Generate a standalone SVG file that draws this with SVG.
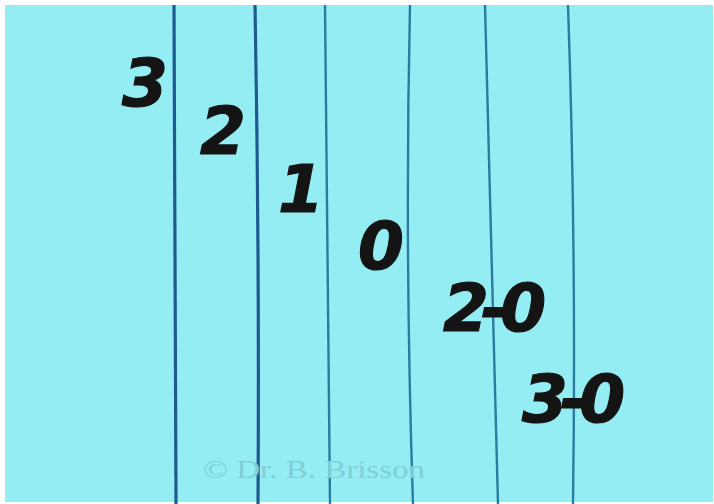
<svg xmlns="http://www.w3.org/2000/svg" width="714" height="504" viewBox="0 0 714 504">
<style>
.num{font-family:"DejaVu Sans","Liberation Sans",sans-serif;font-weight:bold;font-style:italic;font-size:66px;fill:#141414;stroke:#141414;stroke-width:1.2}
.pair{letter-spacing:-8px}
.ln{fill:none;stroke-linecap:butt}
.dark{stroke:#1d5a92;stroke-width:3.2}
.mid{stroke:#2b7c9e;stroke-width:2.4}
.copy{font-family:"Liberation Serif",serif;font-size:25px;fill:#80ced6}
</style>
<rect width="714" height="504" fill="#ffffff"/>
<rect x="5" y="5" width="708" height="497" fill="#95edf4"/>
<g id="lines">
<path class="ln dark" d="M174,5 Q175,250 176,504"/>
<path class="ln dark" d="M255,5 Q259.5,250 258,504"/>
<path class="ln mid" d="M325,5 Q328.5,250 330,504"/>
<path class="ln mid" d="M410,5 Q404.5,250 413,504"/>
<path class="ln mid" d="M485,5 Q491,250 498,504"/>
<path class="ln mid" d="M568,5 Q576.5,250 573,504"/>
</g>
<g id="labels">
<text id="n3" class="num" x="122" y="106">3</text>
<text id="n2" class="num" x="200" y="154">2</text>
<text id="n1" class="num" x="278" y="212">1</text>
<text id="n0" class="num" x="358" y="269">0</text>
<text id="n20" class="num pair" x="443" y="331">2-0</text>
<text id="n30" class="num pair" x="522" y="422">3-0</text>
</g>
<text class="copy" x="203" y="478" textLength="222" lengthAdjust="spacingAndGlyphs">© Dr. B. Brisson</text>
</svg>
